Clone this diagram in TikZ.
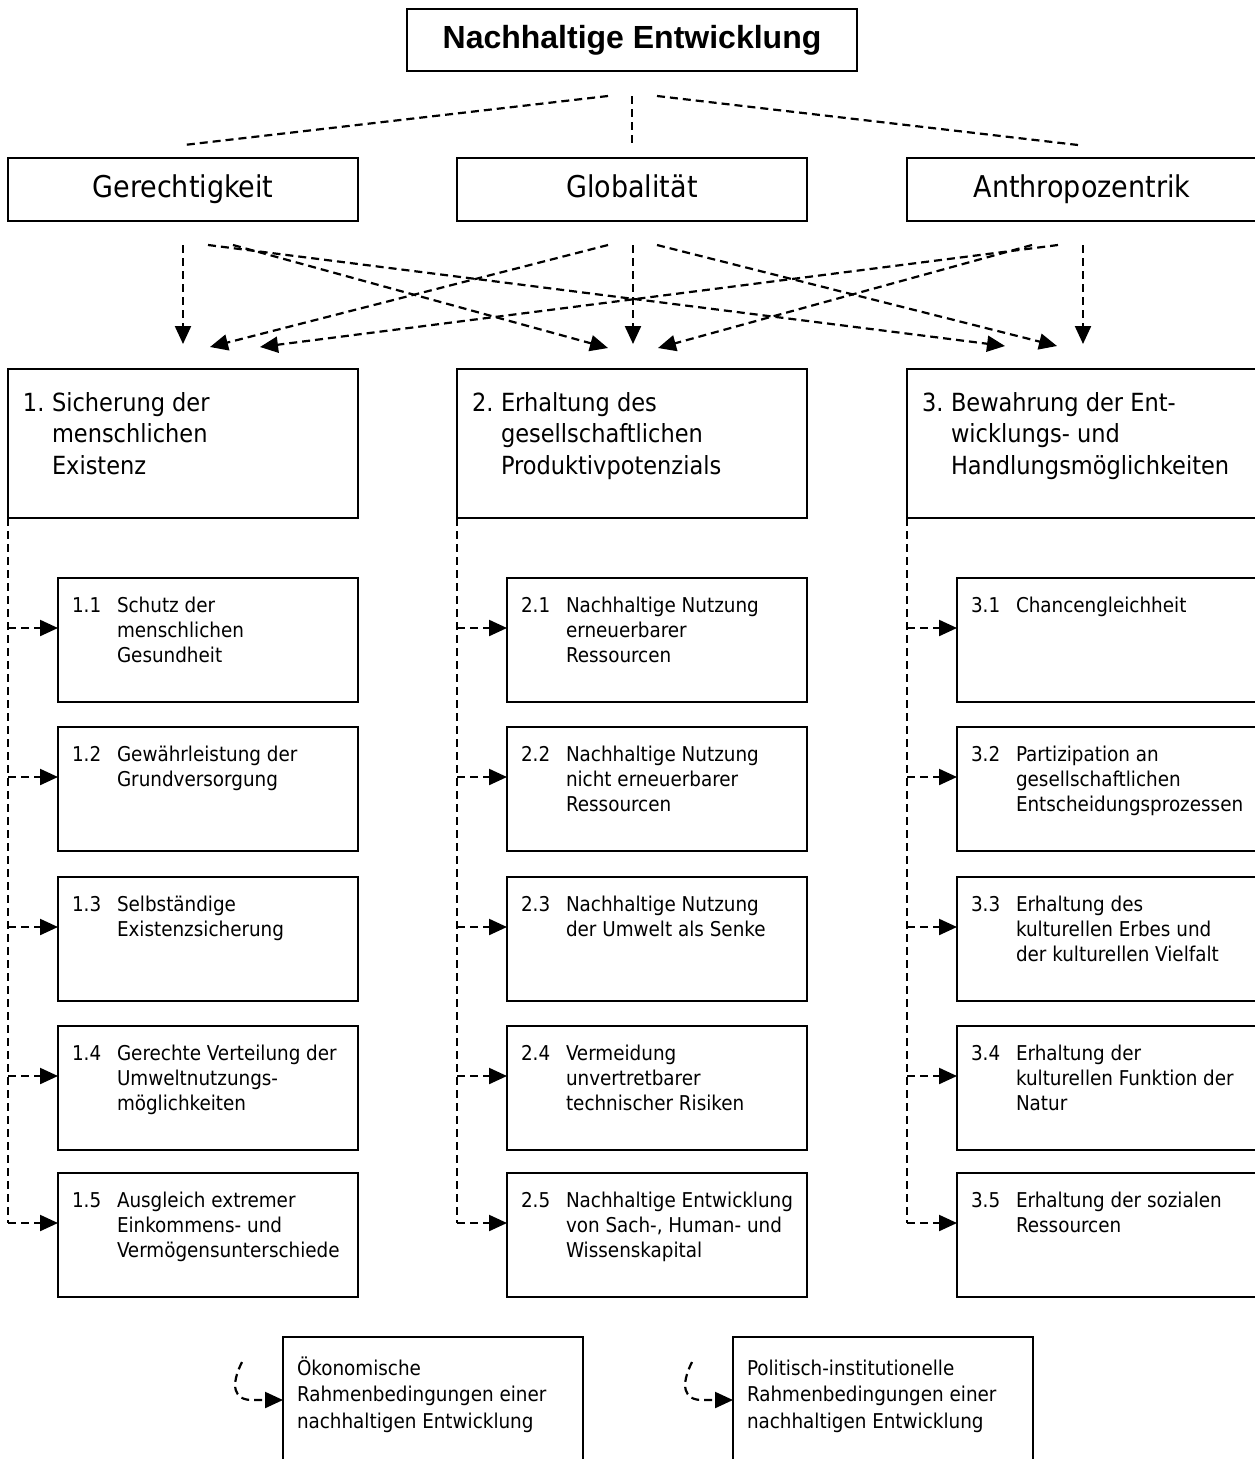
\documentclass[tikz,border=0pt]{standalone}
\usepackage{fontspec}
\setmainfont{DejaVu Sans Condensed}
\newfontfamily\arialfont{Liberation Sans}
\usetikzlibrary{arrows.meta,calc}
\newcommand\mlines[1]{\begin{tabular}[t]{@{}l@{}}#1\end{tabular}}
\tikzset{
  box/.style={draw, line width=2pt, inner sep=0pt, outer sep=0pt, anchor=north west},
  conn/.style={line width=2.2pt, dash pattern=on 8pt off 5pt},
  arr/.style={conn, -{Triangle[length=18pt,width=16pt]}},
  lbl/.style={inner sep=0pt, outer sep=0pt, anchor=base west},
  sfont/.style={font=\fontsize{20.4}{25}\selectfont},
  bfont/.style={font=\fontsize{20.4}{26.5}\selectfont},
  mfont/.style={font=\fontsize{25}{31.5}\selectfont},
  rfont/.style={font=\fontsize{30}{36}\selectfont, text height=22pt, text depth=6pt},
  tfont/.style={font=\arialfont\fontsize{32}{38}\selectfont\bfseries},
}
\newcommand\subbox[5]{%
  \node[box, minimum width=300, minimum height=124] (#1) at (#2,#3) {};
  \node[lbl, sfont] (#1n) at ($(#1.north west)+(14,34)$) {#4};
  \node[lbl, sfont] (#1t) at ($(#1.north west)+(59,34)$) {\mlines{#5}};
  \coordinate (#1a) at ($(#1.north west)+(0,50)$);
}
\begin{document}
\begin{tikzpicture}[x=1pt,y=-1pt]
\useasboundingbox[fill=white] (0,0) rectangle (1255,1459);

% title
\node[box, line width=1.5pt, minimum width=450, minimum height=62, tfont] (title) at (407,9) {Nachhaltige Entwicklung};

% dashed lines from title
\coordinate (tl) at (608,96);
\coordinate (tm) at (632,96);
\coordinate (tr) at (657,96);
\coordinate (el) at (184,145);
\coordinate (em) at (632,145);
\coordinate (er) at (1078,145);
\draw[conn] (tl) -- (el);
\draw[conn] (tm) -- (em);
\draw[conn] (tr) -- (er);

% second row
\node[box, minimum width=350, minimum height=63, rfont] (ger) at (8,158) {Gerechtigkeit};
\node[box, minimum width=350, minimum height=63, rfont] (glo) at (457,158) {Globalität};
\node[box, minimum width=350, minimum height=63, rfont] (ant) at (907,158) {Anthropozentrik};

% arrows from second row
\coordinate (g0) at (183,245);
\coordinate (g1) at (208,245);
\coordinate (g2) at (233,245);
\coordinate (l1) at (608,245);
\coordinate (l0) at (633,245);
\coordinate (l2) at (657,245);
\coordinate (a2) at (1032,245);
\coordinate (a1) at (1058,245);
\coordinate (a0) at (1083,245);

\coordinate (p0) at (183,344);
\coordinate (p1) at (210,347);
\coordinate (p2) at (260,347);
\coordinate (q1) at (608,348);
\coordinate (q0) at (633,344);
\coordinate (q2) at (658,348);
\coordinate (r1) at (1005,346);
\coordinate (r2) at (1057,346);
\coordinate (r0) at (1083,344);

\draw[arr] (g0) -- (p0);
\draw[arr] (g1) -- (r1);
\draw[arr] (g2) -- (q1);
\draw[arr] (l1) -- (p1);
\draw[arr] (l0) -- (q0);
\draw[arr] (l2) -- (r2);
\draw[arr] (a1) -- (p2);
\draw[arr] (a2) -- (q2);
\draw[arr] (a0) -- (r0);

% main boxes
\node[box, minimum width=350, minimum height=149] (m1) at (8,369) {};
\node[box, minimum width=350, minimum height=149] (m2) at (457,369) {};
\node[box, minimum width=350, minimum height=149] (m3) at (907,369) {};
\node[lbl, mfont] (m1n) at ($(m1.north west)+(15,42)$) {1.};
\node[lbl, mfont] (m1t) at ($(m1.north west)+(44,42)$) {\mlines{Sicherung der\\menschlichen\\Existenz}};
\node[lbl, mfont] (m2n) at ($(m2.north west)+(15,42)$) {2.};
\node[lbl, mfont] (m2t) at ($(m2.north west)+(44,42)$) {\mlines{Erhaltung des\\gesellschaftlichen\\Produktivpotenzials}};
\node[lbl, mfont] (m3n) at ($(m3.north west)+(15,42)$) {3.};
\node[lbl, mfont] (m3t) at ($(m3.north west)+(44,42)$) {\mlines{Bewahrung der Ent-\\wicklungs- und\\Handlungsmöglichkeiten}};

% sub boxes column 1
\subbox{b11}{58}{578}{1.1}{Schutz der\\menschlichen\\Gesundheit}
\subbox{b12}{58}{727}{1.2}{Gewährleistung der\\Grundversorgung}
\subbox{b13}{58}{877}{1.3}{Selbständige\\Existenzsicherung}
\subbox{b14}{58}{1026}{1.4}{Gerechte Verteilung der\\Umweltnutzungs-\\möglichkeiten}
\subbox{b15}{58}{1173}{1.5}{Ausgleich extremer\\Einkommens- und\\Vermögensunterschiede}
% column 2
\subbox{b21}{507}{578}{2.1}{Nachhaltige Nutzung\\erneuerbarer\\Ressourcen}
\subbox{b22}{507}{727}{2.2}{Nachhaltige Nutzung\\nicht erneuerbarer\\Ressourcen}
\subbox{b23}{507}{877}{2.3}{Nachhaltige Nutzung\\der Umwelt als Senke}
\subbox{b24}{507}{1026}{2.4}{Vermeidung\\unvertretbarer\\technischer Risiken}
\subbox{b25}{507}{1173}{2.5}{Nachhaltige Entwicklung\\von Sach-, Human- und\\Wissenskapital}
% column 3
\subbox{b31}{957}{578}{3.1}{Chancengleichheit}
\subbox{b32}{957}{727}{3.2}{Partizipation an\\gesellschaftlichen\\Entscheidungsprozessen}
\subbox{b33}{957}{877}{3.3}{Erhaltung des\\kulturellen Erbes und\\der kulturellen Vielfalt}
\subbox{b34}{957}{1026}{3.4}{Erhaltung der\\kulturellen Funktion der\\Natur}
\subbox{b35}{957}{1173}{3.5}{Erhaltung der sozialen\\Ressourcen}

% tree connectors
\foreach \m/\c in {m1/1, m2/2, m3/3}{
  \draw[conn] (\m.south west) -- (\m.south west |- b\c5a);
  \foreach \r in {1,...,5}{
    \draw[arr] (\m.south west |- b\c\r a) -- (b\c\r a);
  }
}

% bottom boxes
\node[box, minimum width=300, minimum height=200] (oek) at (283,1337) {};
\node[lbl, bfont] (oekt) at ($(oek.north west)+(14,38)$) {\mlines{Ökonomische\\Rahmenbedingungen einer\\nachhaltigen Entwicklung}};
\node[box, minimum width=300, minimum height=200] (pol) at (733,1337) {};
\node[lbl, bfont] (polt) at ($(pol.north west)+(14,38)$) {\mlines{Politisch-institutionelle\\Rahmenbedingungen einer\\nachhaltigen Entwicklung}};
\coordinate (oka) at ($(oek.north west)+(0,63)$);
\coordinate (pla) at ($(pol.north west)+(0,63)$);
\coordinate (ok0) at (242,1362);
\coordinate (pl0) at (692,1362);
\draw[arr] (ok0) .. controls (230,1386) and (234,1400) .. (252,1400) -- (oka);
\draw[arr] (pl0) .. controls (680,1386) and (684,1400) .. (702,1400) -- (pla);
\end{tikzpicture}
\end{document}
